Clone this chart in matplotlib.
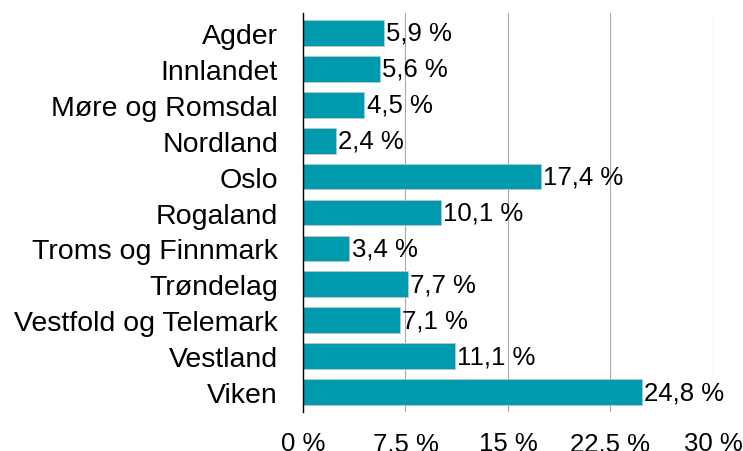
import matplotlib.pyplot as plt
import numpy as np

plt.rcParams['font.family'] = ['Liberation Sans', 'DejaVu Sans']

regions = ['Agder', 'Innlandet', 'Møre og Romsdal', 'Nordland', 'Oslo', 'Rogaland',
           'Troms og Finnmark', 'Trøndelag', 'Vestfold og Telemark', 'Vestland', 'Viken']
shares = [5.9, 5.6, 4.5, 2.4, 17.4, 10.1, 3.4, 7.7, 7.1, 11.1, 24.8]
ticks = [0, 7.5, 15, 22.5, 30]
tick_labels = ['0 %', '7,5 %', '15 %', '22,5 %', '30 %']

fig = plt.figure(figsize=(7.43, 4.52), dpi=100)
ax = fig.add_axes([0.4078, 0.0863, 0.5518, 0.8827])

y = np.arange(len(regions))
bars = ax.barh(y, shares, height=0.72, color='#009aae', edgecolor='#b8c8cc', linewidth=0.6, zorder=3)

for b, v in zip(bars, shares):
    ax.text(v + 0.15, b.get_y() + b.get_height() / 2, f'{v:.1f} %'.replace('.', ','),
            va='center', ha='left', fontsize=18.5, color='black', zorder=4)

ax.set_xlim(0, 30)
ax.set_ylim(len(regions) - 0.45, -0.55)
ax.set_yticks(y)
ax.set_yticklabels(regions, fontsize=20.5)
ax.set_xticks(ticks)
ax.set_xticklabels(tick_labels, fontsize=18.5)
ax.tick_params(axis='both', length=0)
ax.tick_params(axis='y', pad=18)
ax.tick_params(axis='x', pad=14)
ax.xaxis.grid(True, color='#aaaaaa', linewidth=0.8, zorder=0)

for s in ['top', 'right', 'bottom']:
    ax.spines[s].set_visible(False)
ax.spines['left'].set_color('black')
ax.spines['left'].set_linewidth(1.0)
ax.spines['left'].set_zorder(5)

fig.savefig('out.png', dpi=100)
